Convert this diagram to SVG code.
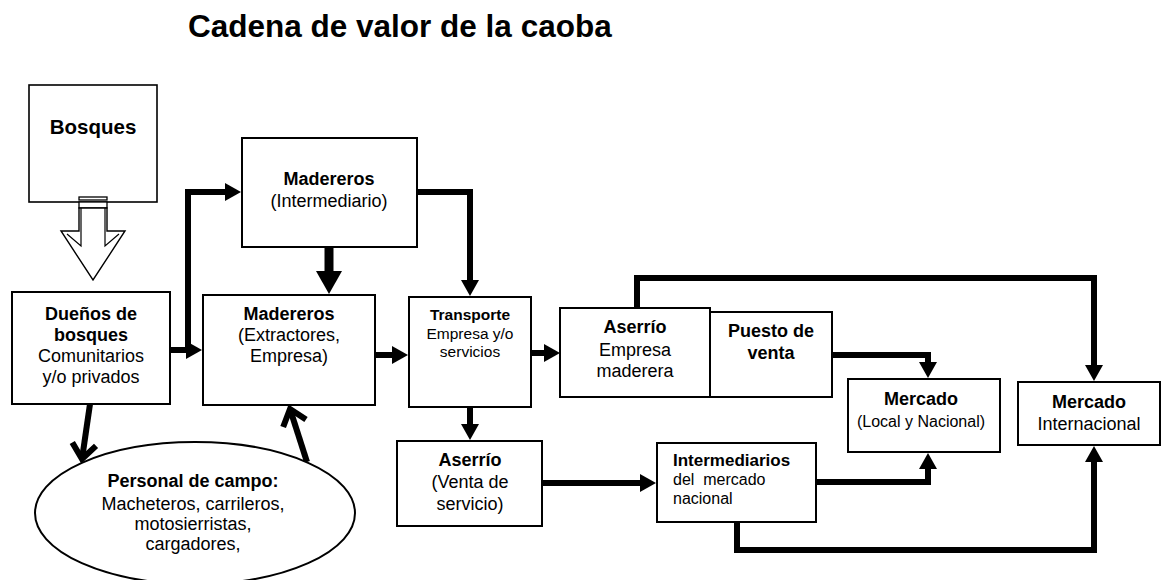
<svg xmlns="http://www.w3.org/2000/svg" width="1162" height="580" viewBox="0 0 1162 580">
<style>
text{font-family:"Liberation Sans",Arial,sans-serif;fill:#000;text-anchor:middle}
.b{font-weight:bold}
.box{fill:#fff;stroke:#000;stroke-width:2}
.c{fill:none;stroke:#000;stroke-width:6}
.c9{fill:none;stroke:#000;stroke-width:9}
.f18{font-size:18px}
.f16{font-size:16px}
.f15{font-size:15.5px}
</style>
<defs>
<marker id="ah" markerUnits="userSpaceOnUse" viewBox="0 0 16 18" refX="1" refY="9" markerWidth="16" markerHeight="18" orient="auto">
<path d="M0,0 L16,9 L0,18 z" fill="#000"/>
</marker>
<marker id="ahBig" markerUnits="userSpaceOnUse" viewBox="0 0 23 26" refX="1" refY="13" markerWidth="23" markerHeight="26" orient="auto">
<path d="M0,0 L23,13 L0,26 z" fill="#000"/>
</marker>
<marker id="chev" markerUnits="userSpaceOnUse" viewBox="-4 -4 26 32" refX="15" refY="12" markerWidth="26" markerHeight="32" orient="auto" overflow="visible">
<path d="M0,0 L15,12 L0,24" fill="none" stroke="#000" stroke-width="6"/>
</marker>
</defs>

<text class="b" x="188" y="37" style="font-size:31.5px;text-anchor:start">Cadena de valor de la caoba</text>

<g id="connectors">
<path class="c" d="M170,350 H187" marker-end="url(#ah)"/>
<path class="c" d="M188,353 V192 H226" marker-end="url(#ah)"/>
<path class="c9" d="M329,247 V272" marker-end="url(#ahBig)"/>
<path class="c" d="M417,192 H470 V281" marker-end="url(#ah)"/>
<path class="c" d="M375,355 H393" marker-end="url(#ah)"/>
<path class="c" d="M531,353 H545" marker-end="url(#ah)"/>
<path class="c" d="M637,308 V278 H1094 V366" marker-end="url(#ah)"/>
<path class="c" d="M832,355 H928 V363" marker-end="url(#ah)"/>
<path class="c" d="M470,407 V425" marker-end="url(#ah)"/>
<path class="c" d="M542,483 H641" marker-end="url(#ah)"/>
<path class="c" d="M816,482 H928 V468" marker-end="url(#ah)"/>
<path class="c" d="M737,522 V550 H1094 V461" marker-end="url(#ah)"/>
<path class="c" d="M90,404 L82,459" marker-end="url(#chev)"/>
<path class="c" d="M307,462 L290,409" marker-end="url(#chev)"/>
</g>

<g id="bosques">
<rect class="box" x="29" y="85" width="128" height="117" style="stroke-width:1.6"/>
<text class="b" x="93" y="134" style="font-size:20.5px">Bosques</text>
<rect x="79" y="197" width="28" height="3" fill="#fff" stroke="#000" stroke-width="1.3"/>
<rect x="79" y="202" width="28" height="6" fill="#fff" stroke="#000" stroke-width="1.3"/>
<polygon points="79,208 107,208 107,231 125,231 93,280 61,231 79,231" fill="#fff" stroke="#000" stroke-width="1.4"/>
<polyline points="81,208 81,246 67,234" fill="none" stroke="#000" stroke-width="1.2"/>
<polyline points="105,208 105,246 119,234" fill="none" stroke="#000" stroke-width="1.2"/>
</g>

<g id="duenos">
<rect class="box" x="12" y="292" width="158" height="112"/>
<text class="b f18" x="91" y="320">Dueños de</text>
<text class="b f18" x="91" y="341">bosques</text>
<text class="f18" x="91" y="362">Comunitarios</text>
<text class="f18" x="91" y="383">y/o privados</text>
</g>

<g id="madereros-intermediario">
<rect class="box" x="242" y="138" width="175" height="109"/>
<text class="b f18" x="329" y="185">Madereros</text>
<text class="f18" x="329" y="207">(Intermediario)</text>
</g>

<g id="madereros-extractores">
<rect class="box" x="203" y="295" width="172" height="110"/>
<text class="b f18" x="289" y="320">Madereros</text>
<text class="f18" x="289" y="341">(Extractores,</text>
<text class="f18" x="289" y="362">Empresa)</text>
</g>

<g id="transporte">
<rect class="box" x="409" y="297" width="122" height="110"/>
<text class="b f15" x="470" y="320">Transporte</text>
<text class="f15" x="470" y="339">Empresa y/o</text>
<text class="f15" x="470" y="357">servicios</text>
</g>

<g id="aserrio-empresa">
<rect class="box" x="560" y="308" width="150" height="89"/>
<text class="b f18" x="635" y="333">Aserrío</text>
<text class="f18" x="635" y="356">Empresa</text>
<text class="f18" x="635" y="377">maderera</text>
</g>

<g id="puesto-venta">
<rect class="box" x="710" y="312" width="122" height="85"/>
<text class="b f18" x="771" y="337">Puesto de</text>
<text class="b f18" x="771" y="359">venta</text>
</g>

<g id="mercado-local">
<rect class="box" x="848" y="379" width="152" height="73"/>
<text class="b f18" x="921" y="405">Mercado</text>
<text class="f16" x="921" y="427">(Local y Nacional)</text>
</g>

<g id="mercado-internacional">
<rect class="box" x="1018" y="382" width="142" height="63"/>
<text class="b f18" x="1089" y="408">Mercado</text>
<text class="f18" x="1089" y="430">Internacional</text>
</g>

<g id="aserrio-venta">
<rect class="box" x="397" y="441" width="145" height="85"/>
<text class="b f18" x="470" y="466">Aserrío</text>
<text class="f18" x="470" y="488">(Venta de</text>
<text class="f18" x="470" y="510">servicio)</text>
</g>

<g id="intermediarios">
<rect class="box" x="657" y="443" width="159" height="79"/>
<text class="b" x="673" y="466" style="font-size:17px;text-anchor:start">Intermediarios</text>
<text class="f16" x="673" y="485" style="text-anchor:start" xml:space="preserve">del  mercado</text>
<text class="f16" x="673" y="504" style="text-anchor:start">nacional</text>
</g>

<g id="personal-campo">
<ellipse cx="195" cy="513" rx="160" ry="71" fill="#fff" stroke="#000" stroke-width="2"/>
<text class="b f18" x="193" y="487">Personal de campo:</text>
<text class="f18" x="193" y="510">Macheteros, carrileros,</text>
<text class="f18" x="193" y="530">motosierristas,</text>
<text class="f18" x="193" y="550">cargadores,</text>
</g>
</svg>
